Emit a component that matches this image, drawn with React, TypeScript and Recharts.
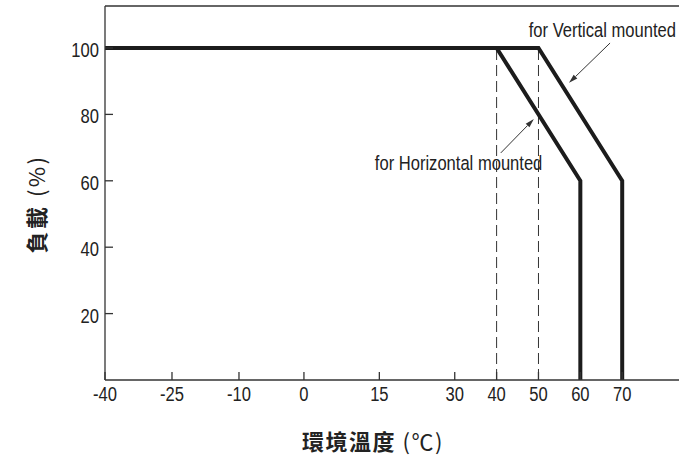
import { LineChart, Line, XAxis, YAxis, ReferenceLine, ReferenceDot, Label } from "recharts";

// ── data ──
const X_TICKS = [-40, -25, -10, 0, 15, 30, 40, 50, 60, 70];
const Y_TICKS = [20, 40, 60, 80, 100];
const HORIZONTAL_TEMP = [-40, 40, 60, 60];
const HORIZONTAL_LOAD = [100, 100, 60, 0];
const VERTICAL_TEMP = [-40, 50, 70, 70];
const VERTICAL_LOAD = [100, 100, 60, 0];
const DERATE_START = [40, 50];

// the printed temperature axis is not linear: breakpoints and where they sit (0..1)
const X_BREAKS = [-40, -10, 0, 30, 85];
const X_BREAK_POS = [0, 0.231, 0.343, 0.603, 1];
const Y_TOP = 112.65;

const INK = "#1c1c1c";
const FRAME = "#333";
const SANS = "'Liberation Sans', Arial, sans-serif";
const CJK = "'Noto Sans CJK TC', 'Noto Sans CJK SC', sans-serif";

function pieceScale(breaks: number[], pos: number[]) {
  let dom: number[] = [breaks[0], breaks[breaks.length - 1]];
  let rng: number[] = [0, 1];
  const scale: any = (v: number) => {
    let i = 0;
    while (i < breaks.length - 2 && v > breaks[i + 1]) i++;
    const t = (v - breaks[i]) / (breaks[i + 1] - breaks[i]);
    const f = pos[i] + t * (pos[i + 1] - pos[i]);
    return rng[0] + f * (rng[1] - rng[0]);
  };
  scale.domain = (d?: number[]) => {
    if (d === undefined) return dom;
    dom = d;
    return scale;
  };
  scale.range = (r?: number[]) => {
    if (r === undefined) return rng;
    rng = r;
    return scale;
  };
  scale.copy = () => pieceScale(breaks, pos).domain(dom).range(rng);
  scale.ticks = () => breaks;
  return scale;
}

const X_SCALE = pieceScale(X_BREAKS, X_BREAK_POS);

const horizontalData = HORIZONTAL_TEMP.map((t, i) => ({ t, load: HORIZONTAL_LOAD[i] }));
const verticalData = VERTICAL_TEMP.map((t, i) => ({ t, load: VERTICAL_LOAD[i] }));

// narrow sans text (the original uses an Arial Narrow-like face)
const NarrowText = ({ x, y, anchor, children }: any) => (
  <g transform={`translate(${x},${y}) scale(0.85,1)`}>
    <text x={0} y={0} textAnchor={anchor} fontSize={19.5} fontFamily={SANS} fill="#222">
      {children}
    </text>
  </g>
);

const XTick = ({ x, y, payload }: any) => (
  <g>
    <line x1={x} y1={y} x2={x} y2={y - 8} stroke={FRAME} strokeWidth={1.3} />
    <NarrowText x={x} y={y + 21} anchor="middle">
      {payload.value}
    </NarrowText>
  </g>
);

const LeftTick = ({ x, y, payload }: any) => (
  <g>
    <line x1={x} y1={y} x2={x + 8} y2={y} stroke={FRAME} strokeWidth={1.3} />
    <NarrowText x={x - 6} y={y + 9} anchor="end">
      {payload.value}
    </NarrowText>
  </g>
);

const RightTick = ({ x, y }: any) => (
  <line x1={x} y1={y} x2={x - 8} y2={y} stroke={FRAME} strokeWidth={1.3} />
);

const Arrow = ({ x1, y1, x2, y2 }: any) => {
  const a = Math.atan2(y2 - y1, x2 - x1);
  const len = 9;
  const w = 2.6;
  const bx = x2 - len * Math.cos(a);
  const by = y2 - len * Math.sin(a);
  const px = -Math.sin(a) * w;
  const py = Math.cos(a) * w;
  return (
    <g>
      <line x1={x1} y1={y1} x2={bx} y2={by} stroke={FRAME} strokeWidth={1} />
      <polygon points={`${x2},${y2} ${bx + px},${by + py} ${bx - px},${by - py}`} fill={FRAME} />
    </g>
  );
};

const note = (text: string, anchor: string) => ({ cx, cy }: any) => (
  <NarrowText x={cx} y={cy} anchor={anchor}>
    {text}
  </NarrowText>
);

export default function App() {
  return (
    <div
      style={{
        position: "absolute",
        left: 0,
        top: 0,
        width: 679,
        height: 461,
        overflow: "hidden",
        background: "#fff",
      }}
    >
      <LineChart width={700} height={461} margin={{ top: 6, right: 14, bottom: 0, left: 0 }}>
        <XAxis
          type="number"
          dataKey="t"
          domain={[X_BREAKS[0], X_BREAKS[X_BREAKS.length - 1]]}
          scale={X_SCALE}
          ticks={X_TICKS}
          allowDataOverflow
          height={81}
          tickSize={0}
          tickMargin={0}
          tickLine={false}
          tick={<XTick />}
          axisLine={{ stroke: FRAME, strokeWidth: 1.3 }}
        >
          <Label
            content={({ viewBox }: any) => (
              <text
                x={viewBox.x + viewBox.width / 2 - 22}
                y={viewBox.y + 70}
                textAnchor="middle"
                fontSize={22}
                fontWeight={700}
                letterSpacing={1.5}
                fontFamily={CJK}
                fill="#222"
              >
                環境溫度
                <tspan fontWeight={400}> (℃)</tspan>
              </text>
            )}
          />
        </XAxis>
        <YAxis
          type="number"
          domain={[0, Y_TOP]}
          ticks={Y_TICKS}
          width={105}
          tickSize={0}
          tickMargin={0}
          tickLine={false}
          tick={<LeftTick />}
          axisLine={{ stroke: FRAME, strokeWidth: 1.3 }}
        >
          <Label
            content={() => (
              <text
                x={37}
                y={204}
                dy="0.35em"
                transform="rotate(-90, 37, 204)"
                textAnchor="middle"
                fontSize={22}
                fontWeight={700}
                letterSpacing={2.5}
                fontFamily={CJK}
                fill="#222"
              >
                負載
                <tspan fontWeight={400}> (%)</tspan>
              </text>
            )}
          />
        </YAxis>
        <YAxis
          yAxisId="r"
          orientation="right"
          type="number"
          domain={[0, Y_TOP]}
          ticks={Y_TICKS}
          width={1}
          tickSize={0}
          tickMargin={0}
          tickLine={false}
          axisLine={false}
          tick={<RightTick />}
        />
        <ReferenceLine y={Y_TOP} stroke={FRAME} strokeWidth={1.3} />
        {DERATE_START.map((t) => (
          <ReferenceLine
            key={t}
            segment={[
              { x: t, y: 0 },
              { x: t, y: 100 },
            ]}
            stroke={FRAME}
            strokeWidth={1}
            strokeDasharray="11 5"
          />
        ))}
        <Line
          data={horizontalData}
          dataKey="load"
          type="linear"
          stroke={INK}
          strokeWidth={4}
          dot={false}
          isAnimationActive={false}
        />
        <Line
          data={verticalData}
          dataKey="load"
          type="linear"
          stroke={INK}
          strokeWidth={4}
          dot={false}
          isAnimationActive={false}
        />
        <ReferenceLine
          segment={[
            { x: 67.1, y: 101.5 },
            { x: 57.3, y: 89.5 },
          ]}
          shape={Arrow}
        />
        <ReferenceLine
          segment={[
            { x: 41.0, y: 68.4 },
            { x: 48.9, y: 78.6 },
          ]}
          shape={Arrow}
        />
        <ReferenceDot x={82.85} y={103.3} r={0} shape={note("for Vertical mounted", "end")} />
        <ReferenceDot x={14.1} y={63.3} r={0} shape={note("for Horizontal mounted", "start")} />
      </LineChart>
    </div>
  );
}
